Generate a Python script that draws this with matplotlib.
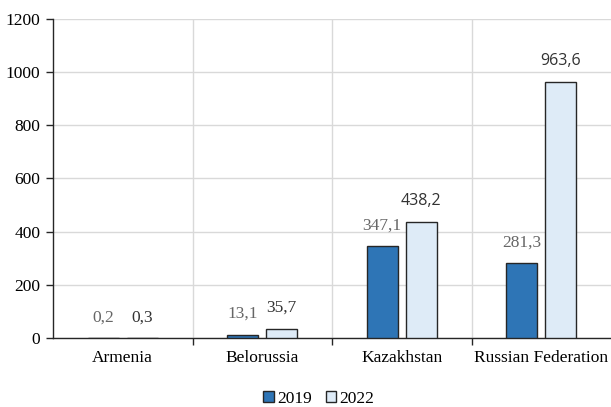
import matplotlib
matplotlib.use("Agg")
import matplotlib.pyplot as plt
import numpy as np

categories = ["Armenia", "Belorussia", "Kazakhstan", "Russian Federation"]
values_2019 = [0.2, 13.1, 347.1, 281.3]
values_2022 = [0.3, 35.7, 438.2, 963.6]
labels_2019 = ["0,2", "13,1", "347,1", "281,3"]
labels_2022 = ["0,3", "35,7", "438,2", "963,6"]
yticks = [0, 200, 400, 600, 800, 1000, 1200]

serif = ["Liberation Serif", "DejaVu Serif"]
sans = ["Open Sans", "DejaVu Sans"]
fs = 12.5

fig = plt.figure(figsize=(6.11, 4.07), dpi=100)
ax = fig.add_axes([53/611, 1 - 338/407, 558/611, (338 - 19)/407])

x = np.arange(len(categories))
w = 0.22
off = 0.14
b1 = ax.bar(x - off, values_2019, w, color="#2e75b6", edgecolor="#262626", linewidth=1.0, label="2019", zorder=3)
b2 = ax.bar(x + off, values_2022, w, color="#deebf7", edgecolor="#262626", linewidth=1.0, label="2022", zorder=3)

for xi, v, t in zip(x, values_2019, labels_2019):
    ax.annotate(t, (xi - off, v), xytext=(0, 9), textcoords="offset points",
                ha="center", va="bottom", fontsize=fs, color="#666666", family=serif)
for i, (xi, v, t) in enumerate(zip(x, values_2022, labels_2022)):
    fam = serif if i < 2 else sans
    size = fs if i < 2 else 11.5
    ax.annotate(t, (xi + off, v), xytext=(0, 9), textcoords="offset points",
                ha="center", va="bottom", fontsize=size, color="#333333", family=fam)

ax.set_xlim(-0.5, len(categories) - 0.5)
ax.set_ylim(0, 1200)
ax.set_yticks(yticks)
ax.set_yticklabels([str(v) for v in yticks], family=serif, fontsize=fs)
ax.set_xticks(x)
ax.set_xticklabels(categories, family=serif, fontsize=fs)
ax.tick_params(axis="x", length=0, pad=9)
ax.tick_params(axis="y", length=5, width=1, color="#262626", direction="out", pad=4)

# category boundaries
bounds = np.arange(len(categories) + 1) - 0.5
ax.set_xticks(bounds[1:-1], minor=True)
ax.tick_params(axis="x", which="minor", length=5, width=1, color="#262626", direction="out")
ax.grid(axis="x", which="minor", color="#d9d9d9", linewidth=1, zorder=0)
ax.grid(axis="y", which="major", color="#d9d9d9", linewidth=1, zorder=0)
ax.grid(axis="x", which="major", visible=False)

for s in ["top", "right"]:
    ax.spines[s].set_visible(False)
ax.spines["left"].set_color("#262626")
ax.spines["bottom"].set_color("#262626")
ax.spines["left"].set_linewidth(1)
ax.spines["bottom"].set_linewidth(1)

leg = fig.legend(handles=[b1, b2], labels=["2019", "2022"], loc="center",
                 bbox_to_anchor=(0.522, 1 - 399/407), ncol=2, frameon=False,
                 prop={"family": serif, "size": fs}, handlelength=0.6, handleheight=0.6,
                 handletextpad=0.2, columnspacing=0.8)

fig.savefig("out.png", dpi=100)
